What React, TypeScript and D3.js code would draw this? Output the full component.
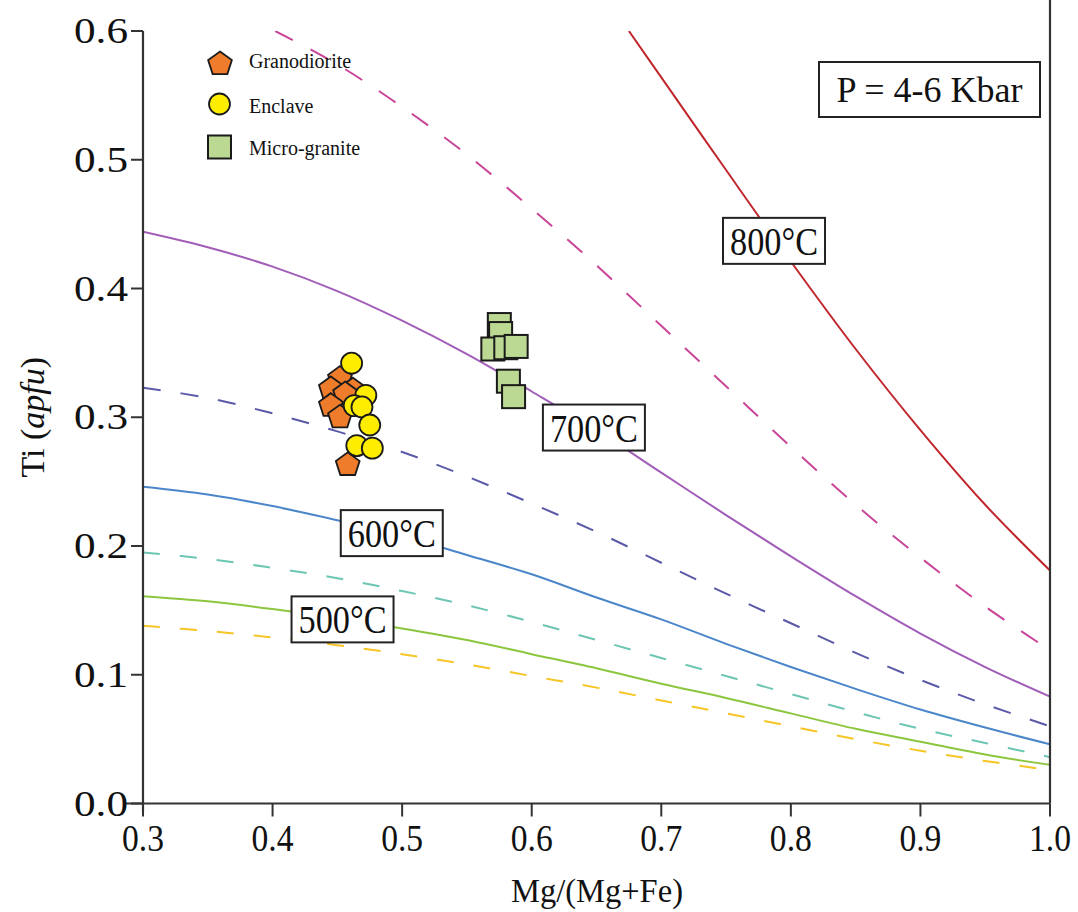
import React from 'react';
import * as d3 from 'd3';

// ---- data ----
const xGrid = [0.30, 0.35, 0.40, 0.45, 0.50, 0.55, 0.60, 0.65, 0.70, 0.75, 0.80, 0.85, 0.90, 0.95, 1.00];

const x800 = [0.675, 0.70, 0.75, 0.80, 0.85, 0.90, 0.95, 1.00];
const ti800 = [0.600, 0.564, 0.492, 0.421, 0.353, 0.290, 0.232, 0.181];

const x750 = [0.402, 0.45, 0.50, 0.55, 0.60, 0.65, 0.70, 0.75, 0.80, 0.85, 0.90, 0.95, 1.00];
const ti750 = [0.600, 0.574, 0.541, 0.504, 0.462, 0.418, 0.371, 0.324, 0.277, 0.232, 0.191, 0.153, 0.119];

const ti700 = [0.444, 0.432, 0.417, 0.398, 0.375, 0.349, 0.320, 0.290, 0.257, 0.224, 0.192, 0.161, 0.132, 0.106, 0.083];
const ti650 = [0.323, 0.315, 0.303, 0.289, 0.273, 0.254, 0.233, 0.211, 0.187, 0.163, 0.140, 0.117, 0.096, 0.077, 0.060];
const ti600 = [0.246, 0.240, 0.231, 0.220, 0.208, 0.193, 0.178, 0.160, 0.143, 0.124, 0.106, 0.089, 0.073, 0.059, 0.046];
const ti550 = [0.195, 0.190, 0.183, 0.175, 0.165, 0.154, 0.141, 0.127, 0.113, 0.099, 0.085, 0.071, 0.058, 0.047, 0.036];
const ti500 = [0.161, 0.157, 0.151, 0.144, 0.136, 0.127, 0.116, 0.105, 0.093, 0.082, 0.070, 0.058, 0.048, 0.038, 0.030];
const ti450 = [0.138, 0.134, 0.129, 0.123, 0.116, 0.108, 0.099, 0.090, 0.080, 0.070, 0.060, 0.050, 0.041, 0.033, 0.026];

const granoX = [0.452, 0.445, 0.462, 0.456, 0.445, 0.452, 0.458];
const granoY = [0.330, 0.322, 0.321, 0.318, 0.309, 0.300, 0.263];

const enclaveX = [0.461, 0.472, 0.463, 0.469, 0.475, 0.465, 0.477];
const enclaveY = [0.342, 0.317, 0.309, 0.308, 0.294, 0.278, 0.276];

const microX = [0.575, 0.576, 0.570, 0.580, 0.588, 0.582, 0.586];
const microY = [0.372, 0.365, 0.353, 0.354, 0.355, 0.328, 0.316];

const xTicks = [0.3, 0.4, 0.5, 0.6, 0.7, 0.8, 0.9, 1.0];
const yTicks = [0.0, 0.1, 0.2, 0.3, 0.4, 0.5, 0.6];

const isoLabels = ['800°C', '700°C', '600°C', '500°C'];
const isoLabelX = [0.787, 0.648, 0.492, 0.454];
const isoLabelY = [0.437, 0.292, 0.210, 0.143];

const legendNames = ['Granodiorite', 'Enclave', 'Micro-granite'];

const W = 1078;
const H = 912;

const x = d3.scaleLinear().domain([0.3, 1.0]).range([143, 1050]);
const y = d3.scaleLinear().domain([0, 0.6]).range([803.5, 31]);

const line = d3
  .line<[number, number]>()
  .x((d) => x(d[0]))
  .y((d) => y(d[1]))
  .curve(d3.curveCatmullRom);

const zip = (xs: number[], ys: number[]) => xs.map((v, i) => [v, ys[i]] as [number, number]);

const curves = [
  { xs: x800, ys: ti800, color: '#c0272d', dash: '' },
  { xs: x750, ys: ti750, color: '#c94598', dash: '20 20' },
  { xs: xGrid, ys: ti700, color: '#a15db8', dash: '' },
  { xs: xGrid, ys: ti650, color: '#5b5aa9', dash: '18 20' },
  { xs: xGrid, ys: ti600, color: '#4a86c9', dash: '' },
  { xs: xGrid, ys: ti550, color: '#6cc6b3', dash: '17 20' },
  { xs: xGrid, ys: ti500, color: '#8cc63e', dash: '' },
  { xs: xGrid, ys: ti450, color: '#f6c526', dash: '17 20' },
];

const pentagon = (cx: number, cy: number, r: number) => {
  const pts: string[] = [];
  for (let i = 0; i < 5; i++) {
    const a = -Math.PI / 2 + (i * 2 * Math.PI) / 5;
    pts.push(`${cx + r * Math.cos(a)},${cy + r * Math.sin(a)}`);
  }
  return pts.join(' ');
};

const SERIF = '"Liberation Serif", "Times New Roman", serif';

function IsoLabel({ t, cx, cy }: { t: string; cx: number; cy: number }) {
  const bw = 102;
  const bh = 46;
  return (
    <g>
      <rect x={cx - bw / 2} y={cy - bh / 2} width={bw} height={bh} fill="#fff" stroke="#222" strokeWidth={2} />
      <text x={cx - 44} y={cy + 14} fontFamily={SERIF} fontSize={40} fill="#111" textLength={88} lengthAdjust="spacingAndGlyphs">
        {t}
      </text>
    </g>
  );
}

export default function App() {
  return (
    <svg width={W} height={H} style={{ position: 'absolute', left: 0, top: 0, background: '#fff' }}>
      <rect x={0} y={0} width={W} height={H} fill="#fff" />
      <defs>
        <clipPath id="plotclip">
          <rect x={x(0.3)} y={y(0.6)} width={x(1.0) - x(0.3)} height={y(0) - y(0.6)} />
        </clipPath>
      </defs>

      {/* isotherms */}
      <g clipPath="url(#plotclip)">
        {curves.map((c, i) => (
          <path
            key={i}
            d={line(zip(c.xs, c.ys)) || ''}
            fill="none"
            stroke={c.color}
            strokeWidth={2}
            strokeDasharray={c.dash || undefined}
          />
        ))}
      </g>

      {/* axes */}
      <line x1={x(0.3)} x2={x(0.3)} y1={y(0.6)} y2={812} stroke="#333" strokeWidth={2.2} />
      <line x1={125} x2={x(1.0)} y1={y(0)} y2={y(0)} stroke="#333" strokeWidth={2.2} />
      <line x1={x(1.0)} x2={x(1.0)} y1={0} y2={y(0)} stroke="#333" strokeWidth={2.2} />

      {yTicks.map((t) => (
        <g key={'y' + t}>
          <line x1={x(0.3) - 12} x2={x(0.3)} y1={y(t)} y2={y(t)} stroke="#333" strokeWidth={2} />
          <text x={x(0.3) - 15} y={y(t) + 12} textAnchor="end" fontFamily={SERIF} fontSize={35} fill="#111" textLength={54} lengthAdjust="spacingAndGlyphs">
            {t.toFixed(1)}
          </text>
        </g>
      ))}
      {xTicks.map((t) => (
        <g key={'x' + t}>
          <line x1={x(t)} x2={x(t)} y1={y(0)} y2={y(0) + 13} stroke="#333" strokeWidth={2} />
          <text x={x(t)} y={y(0) + 47} textAnchor="middle" fontFamily={SERIF} fontSize={37} fill="#111" textLength={42} lengthAdjust="spacingAndGlyphs">
            {t.toFixed(1)}
          </text>
        </g>
      ))}

      <text x={597} y={902} textAnchor="middle" fontFamily={SERIF} fontSize={34} fill="#111" textLength={172} lengthAdjust="spacingAndGlyphs">
        Mg/(Mg+Fe)
      </text>
      <text transform={`translate(44, ${y(0.3)}) rotate(-90)`} textAnchor="middle" fontFamily={SERIF} fontSize={34} fill="#111">
        Ti (<tspan fontStyle="italic">apfu</tspan>)
      </text>

      {/* isotherm labels */}
      {isoLabels.map((t, i) => (
        <IsoLabel key={t} t={t} cx={x(isoLabelX[i])} cy={y(isoLabelY[i])} />
      ))}

      {/* pressure box */}
      <rect x={819} y={62} width={221} height={55} fill="#fff" stroke="#222" strokeWidth={2} />
      <text x={929.5} y={102} textAnchor="middle" fontFamily={SERIF} fontSize={36} fill="#111">
        P = 4-6 Kbar
      </text>

      {/* data points */}
      {granoX.map((gx, i) => (
        <polygon key={'g' + i} points={pentagon(x(gx), y(granoY[i]), 12.5)} fill="#ee7c2b" stroke="#1a1a1a" strokeWidth={1.8} />
      ))}
      {microX.map((mx, i) => (
        <rect key={'m' + i} x={x(mx) - 11.5} y={y(microY[i]) - 11.5} width={23} height={23} fill="#bcd993" stroke="#1a1a1a" strokeWidth={2} />
      ))}
      {enclaveX.map((ex, i) => (
        <circle key={'e' + i} cx={x(ex)} cy={y(enclaveY[i])} r={10.5} fill="#ffed00" stroke="#1a1a1a" strokeWidth={1.8} />
      ))}

      {/* legend */}
      <polygon points={pentagon(220, 64, 12.5)} fill="#ee7c2b" stroke="#1a1a1a" strokeWidth={1.8} />
      <circle cx={219.5} cy={104} r={10.5} fill="#ffed00" stroke="#1a1a1a" strokeWidth={1.8} />
      <rect x={208} y={135.5} width={23} height={23} fill="#bcd993" stroke="#1a1a1a" strokeWidth={2} />
      {legendNames.map((n, i) => (
        <text key={n} x={249} y={[68, 113, 155][i]} fontFamily={SERIF} fontSize={20} fill="#111">
          {n}
        </text>
      ))}
    </svg>
  );
}
